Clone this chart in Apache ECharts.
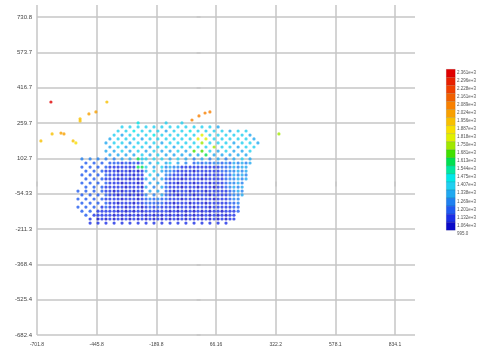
<!DOCTYPE html>
<html><head><meta charset="utf-8">
<script src="https://cdn.jsdelivr.net/npm/echarts@6/dist/echarts.min.js"></script>
<style>html,body{margin:0;padding:0;background:#fff}#c{width:479px;height:354px}</style>
</head><body><div id="c"></div>
<script>
// ---- axes ----
const xTickValues = [-701.8, -445.8, -189.8, 66.16, 322.2, 578.1, 834.1];
const yTickValues = [-682.4, -525.4, -368.4, -211.3, -54.33, 102.7, 259.7, 416.7, 573.7, 730.8];
const xRange = [-701.8, 919.8];
const yRange = [-682.4, 784.0];

// ---- colour scale (20 bands) ----
const levelBounds = [995, 1064, 1132, 1201, 1269, 1338, 1407, 1475, 1544, 1613, 1681, 1750, 1818, 1887, 1956, 2024, 2089, 2161, 2228, 2296, 2361];
const levelColors = ['#0a0ac8','#1a2ee6','#1f5af0','#1f80f0','#20a8f0','#20d0f0','#00e8e8','#00e8a0','#00e050','#40e000',
                     '#a0e800','#e0f000','#f8e000','#f8c000','#f8a000','#f88000','#f06000','#f04000','#e82000','#e00000'];
const levelValues = [1030, 1098, 1166, 1235, 1303, 1372, 1441, 1510, 1578, 1647, 1716, 1784, 1852, 1921, 1990, 2056, 2125, 2194, 2262, 2328];

// ---- point cloud: column x values, row y values, level code per cell ('.' = no point) ----
const cloudX = [-526,-509,-492,-474,-457,-440,-423,-406,-389,-371,-354,-337,-320,-303,-286,-268,-251,-234,-217,-200,-183,-166,-148,-131,-114,-97,-80,-63,-45,-28,-11,6,23,40,58,75,92,109,126,143,161,178,195,212,229,246];
const cloudY = [260,242,224,206,189,171,153,135,118,100,82,64,46,29,11,-7,-25,-43,-60,-78,-96,-114,-132,-150,-167,-185];
const cloudCodes = [
 ["...............6......5...5..................."],
 ["...........","5.5.5.5.5.5.5.5.5.5.5.5.4",".........."],
 ["..........","5.5.6.5.5.5.4.5.5.6.5.5.5.5.4.5.5","..."],
 [".........","5.4.5.5.5.6.5.5.5.5.5.b.5.5.5.5.5.4",".."],
 ["........","4.5.5.5.4.5.5.5.5.5.5.b.b.5.5.5.5.5.4","."],
 [".......","4.5.5.4.5.5.5.4.5.5.5.5.a.5.5.5.4.5.5.4"],
 ["........","4.5.4.5.5.4.5.5.4.5.5.5.5.a.5.5.4.5.5","."],
 [".......","4.4.5.4.5.4.5.4.4.5.4.9.9.5.4.5.4.4.5",".."],
 ["........","4.4.4.4.5.4.5.4.4.4.4.4.8.4.4.4.4.4","..."],
 [".","3.3.3.3.","3.4.4.85","5.5.5",".","4.5.4.3.4.3.","4.3.","4.5.4.."],
 [".",".2.2.2.2","22121214",".4.5.","4","5.4.3.232323","3232","43434.."],
 [".","2.2.2.21","11111188","5.4.5","3","433111111111","1223","4344..."],
 [".",".2.2.211","10110101","4.5.4","3","321111011111","1223","3434..."],
 [".","2.2.2.21","11011011",".5.4.","3","211101111011","1122","4343..."],
 [".",".2.2.211","10110101","4.4.4","2","111011110111","1123","3434..."],
 [".","2.2.2.21","11011101",".4.4.","2","110111011101","1123","343...."],
 [".",".2.2.211","11101110","4.3.4","2","111011101110","1123","434...."],
 ["2",".2.2.211","01011011",".4.4.","2","101110111011","1112","343...."],
 [".","2.2.2.21","10110101","3.3.4","2","110111011101","1112","334...."],
 ["2",".2.2.211","11011101","23232","2","111011101110","1112","33....."],
 [".","2.2.2.21","10111011","22222","1","101110111011","1112","23....."],
 ["2",".2.2.121","11101110","12121","1","110111011101","1111","22....."],
 [".","2.2.1111","10101010","11111","1","010101010101","1011","12....."],
 [".",".2.11111","01010101","01010","1","010101010101","0101","1......"],
 [".","..1.0101","01010101","01010","1","010101010101","0101","1......"],
 [".","..1.1.1.","1.1.1.1.","1.1.1",".","1.1.1.1.1.1.","1.1.","......."]
];

// ---- isolated points [x, y, value] ----
const outliers = [
 [-642, 353, 2330], [-402, 353, 1921], [-449, 309, 1990], [-479, 300, 1990],
 [-517, 278, 1921], [-517, 269, 1921], [-637, 211, 1921], [-599, 215, 1990],
 [-586, 211, 1990], [-685, 180, 1921], [-547, 180, 1921], [-535, 171, 1852],
 [-37, 273, 2056], [-7, 291, 2056], [19, 304, 2056], [40, 309, 2056],
 [336, 211, 1716]
];

// ---- build series data ----
const cloudData = [];
cloudCodes.forEach((segs, r) => {
  const row = segs.join('');
  for (let k = 0; k < cloudX.length && k < row.length; k++) {
    const ch = row[k];
    if (ch === '.') continue;
    const lvl = parseInt(ch, 36);
    cloudData.push([cloudX[k], cloudY[r], levelValues[lvl]]);
  }
});

const pieces = [];
for (let i = 0; i < levelColors.length; i++) {
  pieces.push({ gte: levelBounds[i], lt: levelBounds[i + 1] + (i === levelColors.length - 1 ? 1 : 0), color: levelColors[i] });
}

// ---- colour legend (graphic) ----
const legX = 446, legTop = 69, legW = 9, legH = 8.05;
const graphics = [];
for (let i = 0; i < levelColors.length; i++) {
  graphics.push({ type: 'rect', left: legX, top: legTop + i * legH,
    shape: { width: legW, height: legH },
    style: { fill: levelColors[levelColors.length - 1 - i], stroke: 'rgba(0,0,0,0.18)', lineWidth: 0.5 }, silent: true });
}
for (let i = 0; i < levelBounds.length; i++) {
  const v = levelBounds[levelBounds.length - 1 - i];
  const txt = v >= 1000 ? v.toExponential(3) : v.toFixed(1);
  graphics.push({ type: 'text', x: 457, y: legTop + i * legH + 3.5,
    style: { text: txt, fill: '#555', font: '4.5px "Liberation Sans", Arial, sans-serif', textVerticalAlign: 'middle', textAlign: 'left' }, silent: true });
}

const gridColor = '#c6c6c6';
const fmt = v => String(Math.round(v * 100) / 100);

const chart = echarts.init(document.getElementById('c'), null, { renderer: 'canvas' });
chart.setOption({
  backgroundColor: '#fff',
  animation: false,
  grid: { left: 37, right: 64, top: 5, bottom: 19 },
  xAxis: {
    type: 'value', min: xRange[0], max: xRange[1],
    axisLine: { show: false },
    axisTick: { show: true, length: 5, customValues: xTickValues, lineStyle: { color: gridColor, width: 1.5 } },
    axisLabel: { customValues: xTickValues, formatter: fmt, fontSize: 5, color: '#444', margin: 7, fontFamily: 'Liberation Sans' },
    splitLine: { show: true, lineStyle: { color: gridColor, width: 1.5 } }
  },
  yAxis: {
    type: 'value', min: yRange[0], max: yRange[1],
    axisLine: { show: false },
    axisTick: { show: true, length: 4, customValues: yTickValues, lineStyle: { color: gridColor, width: 1.5 } },
    axisLabel: { customValues: yTickValues, formatter: fmt, fontSize: 6, color: '#444', margin: 5, fontFamily: 'Liberation Sans' },
    splitLine: { show: true, lineStyle: { color: gridColor, width: 1.5 } }
  },
  visualMap: { type: 'piecewise', show: false, dimension: 2, pieces: pieces },
  series: [
    { type: 'scatter', data: cloudData, symbol: 'circle', symbolSize: 3.2, silent: true },
    { type: 'scatter', data: outliers, symbol: 'circle', symbolSize: 3.2, silent: true }
  ],
  graphic: graphics
});
</script>
</body></html>
